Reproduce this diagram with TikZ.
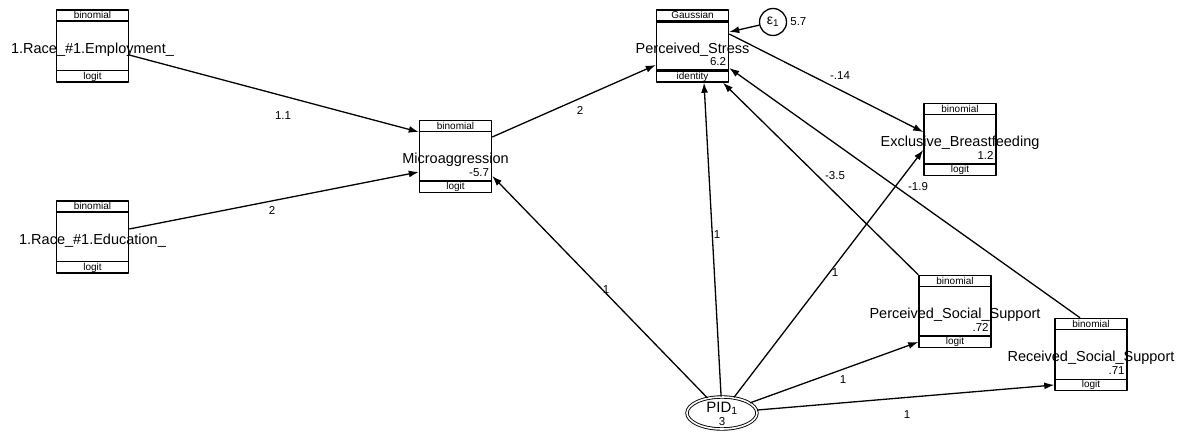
\documentclass[tikz,border=0pt]{standalone}
\usepackage{fontspec}
\setmainfont{Liberation Sans}
\usetikzlibrary{arrows.meta,shapes.geometric}

\tikzset{
  gbox/.style={draw, line width=1.5pt, minimum width=72pt, minimum height=72pt, inner sep=0pt},
  boxlab/.style={font=\fontsize{14.5}{16}\selectfont, inner sep=0pt, anchor=base},
  famlab/.style={font=\fontsize{10}{11}\selectfont, inner sep=0pt},
  constlab/.style={font=\fontsize{11.5}{13}\selectfont, inner sep=0pt, anchor=base east},
  pathlab/.style={font=\fontsize{11.5}{13}\selectfont, inner sep=0pt},
  semarrow/.style={line width=1.3pt, -{Latex[length=10pt,width=7pt]}},
}

% #1 separator width, #2 name, #3 centre, #4 label, #5 constant, #6 family, #7 link
\newcommand\semvar[7][1.5pt]{%
  \node[gbox] (#2) at (#3) {};
  \draw[line width=#1] ([yshift=-12pt]#2.north west) -- ([yshift=-12pt]#2.north east);
  \draw[line width=#1] ([yshift=12pt]#2.south west) -- ([yshift=12pt]#2.south east);
  \node[famlab] (#2-fam) at ([yshift=-6pt]#2.north) {#6};
  \node[famlab] (#2-link) at ([yshift=6pt]#2.south) {#7};
  \node[boxlab] (#2-lab) at ([yshift=-7.5pt]#2.center) {#4};
  \node[constlab] (#2-const) at ([shift={(-3pt,17pt)}]#2.south east) {#5};
}

\begin{document}
\begin{tikzpicture}[x=1pt, y=-1pt, line join=round]
\useasboundingbox (0,0) rectangle (1188,435);

% observed variables
\semvar{emp}{92.5,46}{1.Race\_\#1.Employment\_}{}{binomial}{logit}
\semvar{edu}{92.5,237}{1.Race\_\#1.Education\_}{}{binomial}{logit}
\semvar{micro}{455.5,156.5}{Microaggression}{-5.7}{binomial}{logit}
\semvar[2.8pt]{stress}{692.5,46}{Perceived\_Stress}{6.2}{Gaussian}{identity}
\semvar{ebf}{960,139.5}{Exclusive\_Breastfeeding}{1.2}{binomial}{logit}
\semvar{pss}{955,311.5}{Perceived\_Social\_Support}{.72}{binomial}{logit}
\semvar{rss}{1091,354.5}{Received\_Social\_Support}{.71}{binomial}{logit}

% error and latent
\node[draw, circle, line width=1.3pt, minimum size=27pt, inner sep=0pt, font=\fontsize{14}{15}\selectfont] (eps) at (773,22) {ε\textsubscript{1}};
\node[pathlab, anchor=west] (eps-var) at ([xshift=3pt]eps.east) {5.7};
\node[draw, ellipse, line width=0.9pt, double, double distance=1.6pt, minimum width=70pt, minimum height=32pt] (pid) at (722,413) {};
\node[font=\fontsize{15}{16}\selectfont, inner sep=0pt] (pid-lab) at (722,408) {PID\textsubscript{1}};
\node[pathlab] (pid-var) at (722,422) {3};

% paths
\draw[semarrow] ([yshift=-9pt]emp.east) -- ([yshift=24.5pt]micro.west);
\draw[semarrow] ([yshift=8pt]edu.east) -- ([yshift=-15.5pt]micro.west);
\draw[semarrow] ([yshift=19.5pt]micro.east) -- ([yshift=-19pt]stress.west);
\draw[semarrow] (pid) -- ([yshift=-19.5pt]micro.east);
\draw[semarrow] (pid) -- ([xshift=11.5pt]stress.south);
\draw[semarrow] (pid) -- ([yshift=-10.5pt]ebf.west);
\draw[semarrow] (pid) -- ([yshift=-30.5pt]pss.west);
\draw[semarrow] (pid) -- ([yshift=-30.5pt]rss.west);
\draw[semarrow] (pss.north west) -- ([xshift=30.5pt]stress.south);
\draw[semarrow] ([xshift=-11pt]rss.north) -- ([yshift=-22pt]stress.east);
\draw[semarrow] ([yshift=12pt]stress.east) -- ([yshift=7.5pt]ebf.west);
\draw[semarrow] (eps) -- ([yshift=14pt]stress.east);

% path labels
\node[pathlab] (c1) at (283,116) {1.1};
\node[pathlab] (c2) at (272,210) {2};
\node[pathlab] (c3) at (580,110) {2};
\node[pathlab] (c4) at (606,290) {1};
\node[pathlab] (c5) at (717,235) {1};
\node[pathlab] (c6) at (835,273) {1};
\node[pathlab] (c7) at (843,380) {1};
\node[pathlab] (c8) at (907,415) {1};
\node[pathlab] (c9) at (835,176) {-3.5};
\node[pathlab] (c10) at (918,187) {-1.9};
\node[pathlab] (c11) at (840,76) {-.14};
\end{tikzpicture}
\end{document}
